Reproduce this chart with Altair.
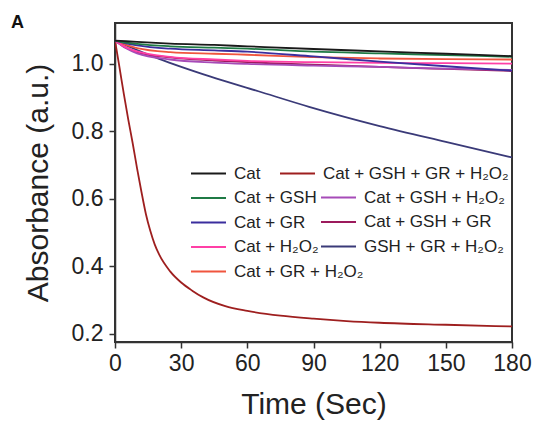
import altair as alt
import pandas as pd

FONT = "Liberation Sans"

# Legend groups (column 1, column 2 rows 2-4, column 2 row 1)
col1_names = ["Cat", "Cat + GSH", "Cat + GR", "Cat + H₂O₂", "Cat + GR + H₂O₂"]
col1_colors = ["#1a1a1a", "#1f7a45", "#3b2e9e", "#ff3fa6", "#f0553e"]
col2_names = ["Cat + GSH + H₂O₂", "Cat + GSH + GR", "GSH + GR + H₂O₂"]
col2_colors = ["#a64bb8", "#9c1a5c", "#3a3a78"]
red_names = ["Cat + GSH + GR + H₂O₂"]
red_colors = ["#9e1f1f"]

# Slowly decaying series
times_top = [0, 5, 10, 25, 45, 60, 90, 120, 150, 180]
cat = [1.068, 1.066, 1.064, 1.059, 1.055, 1.051, 1.043, 1.036, 1.029, 1.022]
cat_gsh = [1.068, 1.062, 1.058, 1.051, 1.047, 1.044, 1.035, 1.030, 1.025, 1.020]
cat_gr = [1.068, 1.060, 1.054, 1.044, 1.039, 1.035, 1.021, 1.006, 0.992, 0.979]
cat_gr_h2o2 = [1.068, 1.055, 1.046, 1.034, 1.029, 1.026, 1.019, 1.015, 1.013, 1.012]
cat_h2o2 = [1.068, 1.048, 1.036, 1.020, 1.012, 1.008, 1.004, 1.002, 1.001, 1.000]
cat_gsh_h2o2 = [1.068, 1.045, 1.030, 1.012, 1.003, 0.999, 0.994, 0.990, 0.985, 0.981]
cat_gsh_gr = [1.068, 1.047, 1.034, 1.018, 1.009, 1.004, 0.997, 0.990, 0.984, 0.978]

# GSH + GR + H2O2
times_navy = [0, 10, 20, 43, 65, 88, 120, 150, 180]
gsh_gr_h2o2 = [1.068, 1.040, 1.014, 0.962, 0.918, 0.872, 0.815, 0.768, 0.722]

# Cat + GSH + GR + H2O2 (fast decay)
times_red = [0, 2, 4, 6, 8, 10, 12, 14, 16, 18, 20, 25, 30, 35, 40, 50, 60, 75, 90, 105, 120, 150, 180]
cat_all = [1.068, 0.990, 0.910, 0.835, 0.765, 0.690, 0.620, 0.555, 0.505, 0.465, 0.435,
           0.385, 0.352, 0.328, 0.308, 0.282, 0.268, 0.254, 0.245, 0.238, 0.233, 0.227, 0.222]

series = {
    "Cat + GSH + GR + H₂O₂": (times_red, cat_all),
    "GSH + GR + H₂O₂": (times_navy, gsh_gr_h2o2),
    "Cat + GSH + GR": (times_top, cat_gsh_gr),
    "Cat + GSH + H₂O₂": (times_top, cat_gsh_h2o2),
    "Cat + H₂O₂": (times_top, cat_h2o2),
    "Cat + GR": (times_top, cat_gr),
    "Cat + GR + H₂O₂": (times_top, cat_gr_h2o2),
    "Cat + GSH": (times_top, cat_gsh),
    "Cat": (times_top, cat),
}


def frame(names):
    rows = []
    for order, name in enumerate(reversed(names)):
        ts, vs = series[name]
        for t, v in zip(ts, vs):
            rows.append({"series": name, "t": t, "v": v, "ord": order})
    return pd.DataFrame(rows)


x_ticks = [0, 30, 60, 90, 120, 150, 180]
y_ticks = [0.2, 0.4, 0.6, 0.8, 1.0]

x_enc = alt.X("t:Q", scale=alt.Scale(domain=[0, 180], nice=False),
              axis=alt.Axis(values=x_ticks, title="Time (Sec)", labelPadding=4,
                            titlePadding=14, labelFlush=False))
y_enc = alt.Y("v:Q", scale=alt.Scale(domain=[0.176, 1.12], nice=False, zero=False),
              axis=alt.Axis(values=y_ticks, format=".1f", title="Absorbance (a.u.)",
                            labelPadding=6, titlePadding=18, labelFlush=False))


def group_layer(names, colors, lx, ly):
    return alt.Chart(frame(names)).mark_line(
        strokeWidth=1.8, interpolate="monotone", clip=True
    ).encode(
        x=x_enc,
        y=y_enc,
        color=alt.Color("series:N", sort=names,
                        scale=alt.Scale(domain=names, range=colors),
                        legend=alt.Legend(orient="none", legendX=lx, legendY=ly,
                                          direction="vertical", title=None, padding=0,
                                          symbolType="M-2.5,0H2.5", symbolSize=196,
                                          symbolStrokeWidth=2, labelFontSize=17,
                                          labelFont=FONT, labelColor="#222",
                                          labelOffset=17, rowPadding=6.5, labelLimit=0)),
        order=alt.Order("ord:Q"),
    )


red_layer = group_layer(red_names, red_colors, 174, 142)
col2_layer = group_layer(col2_names, col2_colors, 215, 166)
col1_layer = group_layer(col1_names, col1_colors, 85, 142)

label_a = alt.Chart(pd.DataFrame({"txt": ["A"]})).mark_text(
    fontSize=18, fontWeight="bold", align="left", baseline="alphabetic", font=FONT, color="#111"
).encode(x=alt.value(-104), y=alt.value(5), text="txt:N")

chart = alt.layer(red_layer, col2_layer, col1_layer, label_a).resolve_scale(
    color="independent"
).resolve_legend(
    color="independent"
).properties(
    width=397, height=319,
    autosize=alt.AutoSizeParams(type="none"),
    padding={"left": 107, "top": 15, "right": 20, "bottom": 79},
).configure_view(
    stroke="#333", strokeWidth=2
).configure_axis(
    domainColor="#333", domainWidth=1.5, tickColor="#333", tickWidth=1.5, tickSize=6,
    labelFontSize=23, labelFont=FONT, labelColor="#222",
    titleFontSize=30, titleFont=FONT, titleFontWeight="normal", titleColor="#222",
    grid=False,
)

chart.save("out.html", embed_options={"renderer": "svg", "actions": False})
